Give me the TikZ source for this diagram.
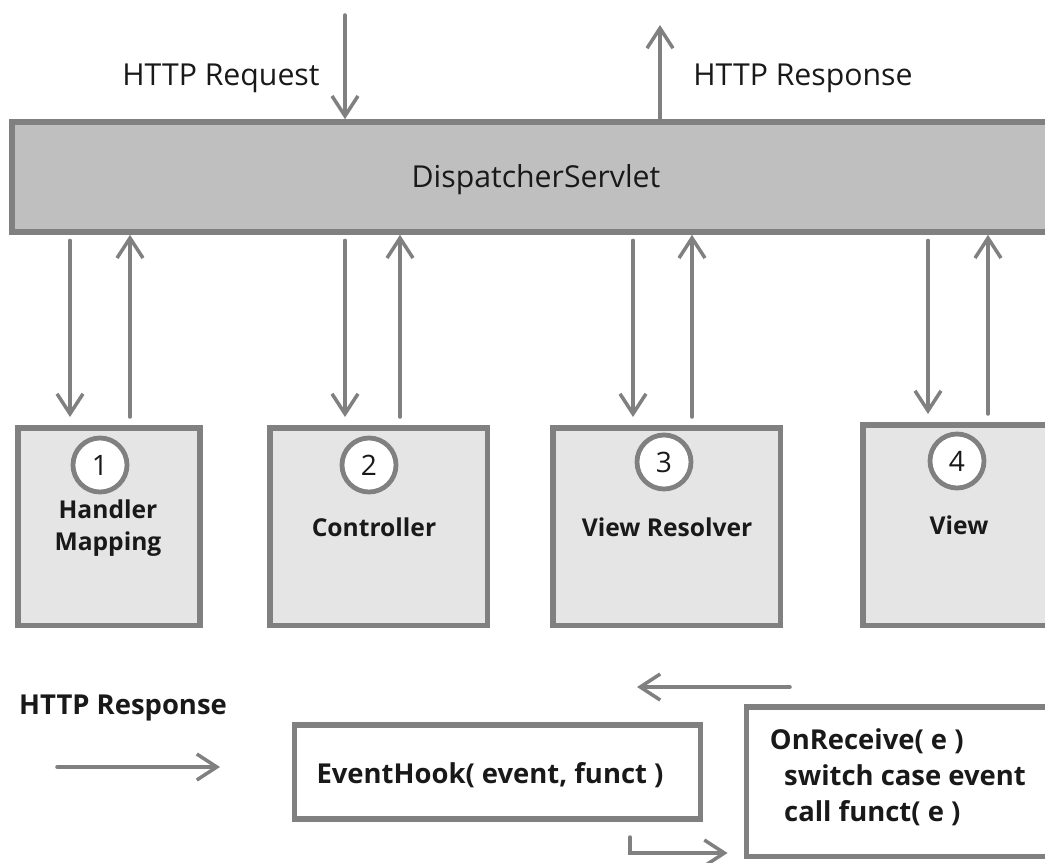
\documentclass[tikz,border=0pt]{standalone}
\usepackage{fontspec}
\setmainfont{Open Sans}
\usetikzlibrary{arrows.meta}

\begin{document}
\begin{tikzpicture}[x=0.025cm,y=-0.025cm,>={Straight Barb[length=5mm,width=6.5mm]},line cap=round,
  flow/.style={->,draw=gray,line width=2.5pt},
  part/.style={draw=gray,line width=3.6pt,fill=gray!20,inner sep=0pt},
  badge/.style={circle,draw=gray,line width=3.4pt,fill=white,minimum size=1.35cm,inner sep=0pt,
    font=\fontsize{20}{22}\selectfont,text=black!90},
  tag/.style={font=\bfseries\fontsize{17.5}{23}\selectfont,align=center,text=black!90},
  plain/.style={font=\fontsize{21.5}{24}\selectfont,text=black!90},
  code/.style={font=\bfseries\fontsize{19.5}{25.5}\selectfont,text=black!90}]
\useasboundingbox (0,0) rectangle (1045,862);
\clip (0,0) rectangle (1045,862);
% servlet bar and the four parts
\node[part,fill=gray!50,line width=4pt,minimum width=26.2cm,minimum height=2.75cm] (disp) at (536,177) {};
\node[plain] (displab) at (536,180) {DispatcherServlet};
\node[part,minimum width=4.55cm,minimum height=4.925cm] (box1) at (109,526.5) {};
\node[part,minimum width=5.425cm,minimum height=4.925cm] (box2) at (378.5,526.5) {};
\node[part,minimum width=5.675cm,minimum height=4.925cm] (box3) at (666.5,526.5) {};
\node[part,minimum width=5.3cm,minimum height=5cm] (box4) at (969,525) {};
\node[badge] (num1) at (100,465) {1};
\node[badge] (num2) at (369,465) {2};
\node[badge] (num3) at (664,462) {3};
\node[badge] (num4) at (957,461) {4};
\node[tag] (lab1) at (108,528) {Handler\\Mapping};
\node[tag] (lab2) at (374,527) {Controller};
\node[tag] (lab3) at (667,527) {View Resolver};
\node[tag] (lab4) at (959,525) {View};
% request / response at the top
\coordinate (req) at (345,15);
\coordinate (resp) at (660,25);
\node[plain] (reqlab) at (221,78) {HTTP Request};
\node[plain] (resplab) at (803,78) {HTTP Response};
\draw[flow] (req) -- (disp.north -| req);
\draw[flow] (disp.north -| resp) -- (resp);
% calls down and back
\draw[flow,shorten <=4pt,shorten >=6pt] (disp.south -| 70,0) -- (box1.north -| 70,0);
\draw[flow,shorten <=6pt] (box1.north -| 130,0) -- (disp.south -| 130,0);
\draw[flow,shorten <=4pt,shorten >=6pt] (disp.south -| 345,0) -- (box2.north -| 345,0);
\draw[flow,shorten <=6pt] (box2.north -| 400,0) -- (disp.south -| 400,0);
\draw[flow,shorten <=4pt,shorten >=6pt] (disp.south -| 633,0) -- (box3.north -| 633,0);
\draw[flow,shorten <=6pt] (box3.north -| 692,0) -- (disp.south -| 692,0);
\draw[flow,shorten <=4pt,shorten >=6pt] (disp.south -| 928,0) -- (box4.north -| 928,0);
\draw[flow,shorten <=6pt] (box4.north -| 988,0) -- (disp.south -| 988,0);
% event hook part
\node[part,fill=white,minimum width=10.125cm,minimum height=2.35cm] (hook) at (497.5,772) {};
\node[code] (hooklab) at (490,775) {EventHook( event, funct )};
\node[part,fill=white,minimum width=8.325cm,minimum height=3.725cm] (recv) at (913.5,781.5) {};
\node[code,align=left,anchor=west] (recvlab) at (765,777)
  {OnReceive( e )\\\ \ switch case event\\\ \ call funct( e )};
\node[code] (resplab2) at (123,708) {HTTP Response};
\coordinate (inA) at (57,767);
\coordinate (inB) at (220,767);
\coordinate (backA) at (790,687);
\coordinate (backB) at (637,687);
\draw[flow] (inA) -- (inB);
\draw[flow] (backA) -- (backB);
\draw[flow,shorten <=11pt,shorten >=12pt] (hook.south -| 630,0) |- (recv.west |- 0,853);
\end{tikzpicture}
\end{document}
